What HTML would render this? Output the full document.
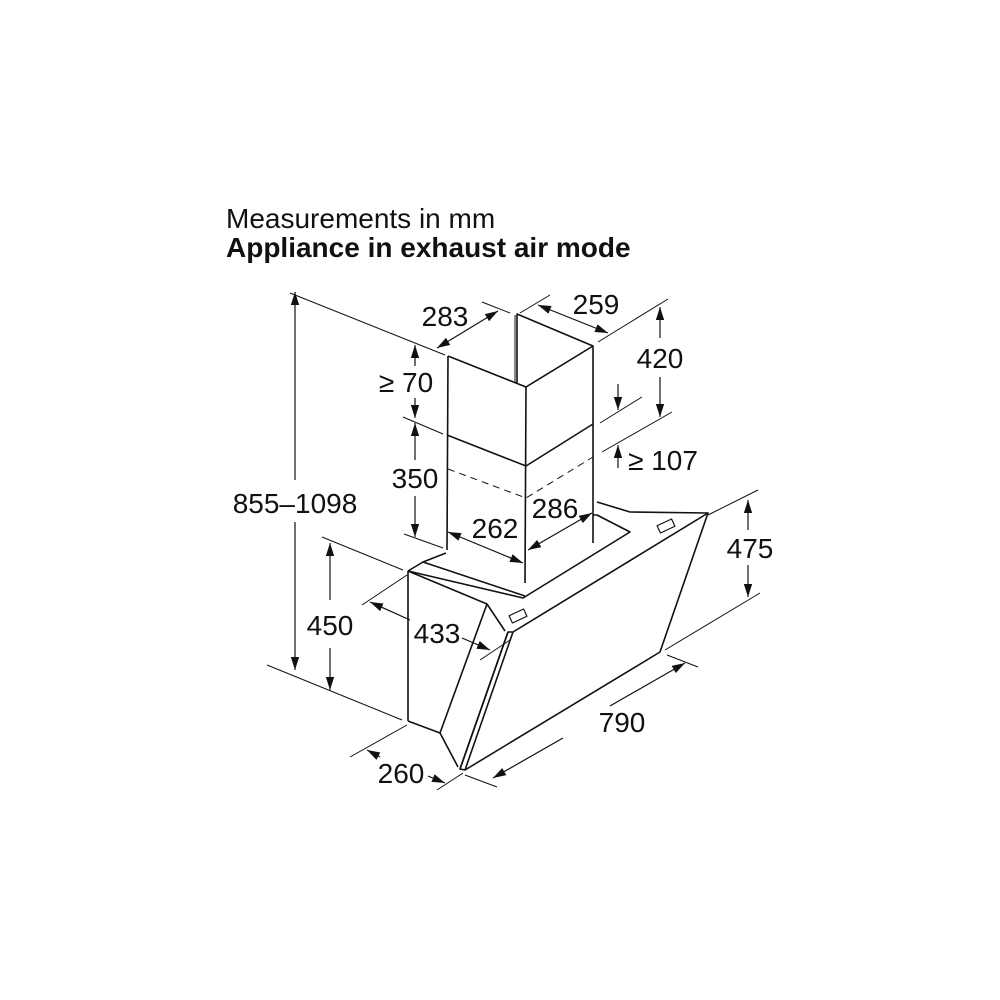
<!DOCTYPE html>
<html><head><meta charset="utf-8"><style>
html,body{margin:0;padding:0;background:#fff;}
svg{display:block}
text{font-family:"Liberation Sans",sans-serif;fill:#111;}
</style></head><body>
<svg width="1000" height="1000" viewBox="0 0 1000 1000">
<defs>
<marker id="a" viewBox="0 0 10 10" refX="10" refY="5" markerWidth="13" markerHeight="13" orient="auto-start-reverse" markerUnits="userSpaceOnUse"><path d="M0,1.8 L10,5 L0,8.2 z" fill="#111"/></marker>
</defs>
<text x="226" y="228" font-size="28">Measurements in mm</text>
<text x="226" y="257" font-size="28" font-weight="bold">Appliance in exhaust air mode</text>

<g stroke="#111" fill="none" stroke-width="1">
<line x1="290" y1="293" x2="445" y2="355"/>
<line x1="267" y1="665" x2="402" y2="720"/>
<line x1="322" y1="537" x2="403" y2="570"/>
<line x1="362" y1="605" x2="407" y2="575"/>
<line x1="480" y1="660" x2="510" y2="640"/>
<line x1="350" y1="757" x2="407" y2="725"/>
<line x1="437" y1="790" x2="463" y2="773"/>
<line x1="667" y1="655" x2="698" y2="667"/>
<line x1="465" y1="775" x2="497" y2="787"/>
<line x1="708" y1="515" x2="758" y2="490"/>
<line x1="665" y1="650" x2="760" y2="593"/>
<line x1="482" y1="302" x2="510" y2="313"/>
<line x1="520" y1="313" x2="550" y2="295"/>
<line x1="598" y1="342" x2="668" y2="299"/>
<line x1="602" y1="452" x2="672" y2="412"/>
<line x1="600" y1="423" x2="642" y2="397"/>
<line x1="403" y1="417" x2="443" y2="434"/>
<line x1="404" y1="534" x2="443" y2="548"/>
</g>
<g stroke="#111" fill="none" stroke-width="1.2" marker-start="url(#a)" marker-end="url(#a)">
<polyline points="295,480 295,292" marker-start="none"/>
<polyline points="295,522 295,670" marker-start="none"/>
<line x1="330" y1="543" x2="330" y2="600" marker-end="none"/>
<line x1="330" y1="648" x2="330" y2="690" marker-start="none"/>
<line x1="370" y1="602" x2="410" y2="620" marker-end="none"/>
<line x1="462" y1="638" x2="490" y2="650" marker-start="none"/>
<line x1="367" y1="750" x2="380" y2="757" marker-end="none"/>
<line x1="428" y1="776" x2="445" y2="783" marker-start="none"/>
<line x1="493" y1="778" x2="563" y2="738" marker-end="none"/>
<line x1="610" y1="706" x2="685" y2="663" marker-start="none"/>
<line x1="748" y1="500" x2="748" y2="530" marker-end="none"/>
<line x1="748" y1="565" x2="748" y2="597" marker-start="none"/>
<line x1="437" y1="348" x2="498" y2="311"/>
<line x1="538" y1="305" x2="608" y2="333"/>
<line x1="660" y1="307" x2="660" y2="338" marker-end="none"/>
<line x1="660" y1="377" x2="660" y2="417" marker-start="none"/>
<line x1="618" y1="384" x2="618" y2="410" marker-start="none"/>
<line x1="618" y1="468" x2="618" y2="445" marker-start="none"/>
<line x1="415" y1="345" x2="415" y2="366" marker-end="none"/>
<line x1="415" y1="398" x2="415" y2="418" marker-start="none"/>
<line x1="415" y1="423" x2="415" y2="460" marker-end="none"/>
<line x1="415" y1="496" x2="415" y2="537" marker-start="none"/>
<line x1="448" y1="532" x2="523" y2="563"/>
<line x1="528" y1="550" x2="592" y2="513"/>
</g>

<g stroke="#111" fill="none" stroke-width="1.6" stroke-linejoin="round">
<polyline points="517,383 517,314 593,346"/>
<line x1="515" y1="315" x2="515" y2="383" stroke-width="1"/>
<polyline points="448,356 526,387 593,346 593,543"/>
<line x1="448" y1="356" x2="447" y2="550"/>
<line x1="526" y1="387" x2="525" y2="583"/>
<polyline points="447,435 526,466 593,424"/>
<polyline points="448,469 526,498 593,457" stroke-dasharray="7,5" stroke-width="1"/>
<polyline points="408,571 423,562 446,553"/>
<polyline points="408,571 523,598 630,532 597,515 593,515"/>
<polyline points="597,502 630,512 708,513"/>
<polyline points="423,562 525,596"/>
<line x1="408" y1="571" x2="408" y2="721"/>
<polyline points="408,571 487,604 505,631"/>
<polyline points="487,604 440,733 458,767"/>
<line x1="408" y1="721" x2="440" y2="733"/>
<polygon points="513,632 708,513 660,652 465,770 460,769 508,632"/>
<line x1="508" y1="632" x2="460" y2="769"/>
<line x1="513" y1="632" x2="465" y2="770"/>
<line x1="520" y1="628" x2="700" y2="518" stroke-width="1"/>
<rect x="510" y="612" width="16" height="8" transform="rotate(-25 518 616)" stroke-width="1.2"/>
<rect x="658" y="522" width="16" height="8" transform="rotate(-25 666 526)" stroke-width="1.2"/>
</g>

<g font-size="28" text-anchor="middle">
<text x="295" y="513">855–1098</text>
<text x="330" y="635">450</text>
<text x="437" y="643">433</text>
<text x="401" y="783">260</text>
<text x="622" y="732">790</text>
<text x="750" y="558">475</text>
<text x="445" y="326">283</text>
<text x="596" y="314">259</text>
<text x="660" y="368">420</text>
<text x="663" y="470">≥ 107</text>
<text x="406" y="392">≥ 70</text>
<text x="415" y="488">350</text>
<text x="495" y="538">262</text>
<text x="555" y="518">286</text>
</g>
</svg>
</body></html>
